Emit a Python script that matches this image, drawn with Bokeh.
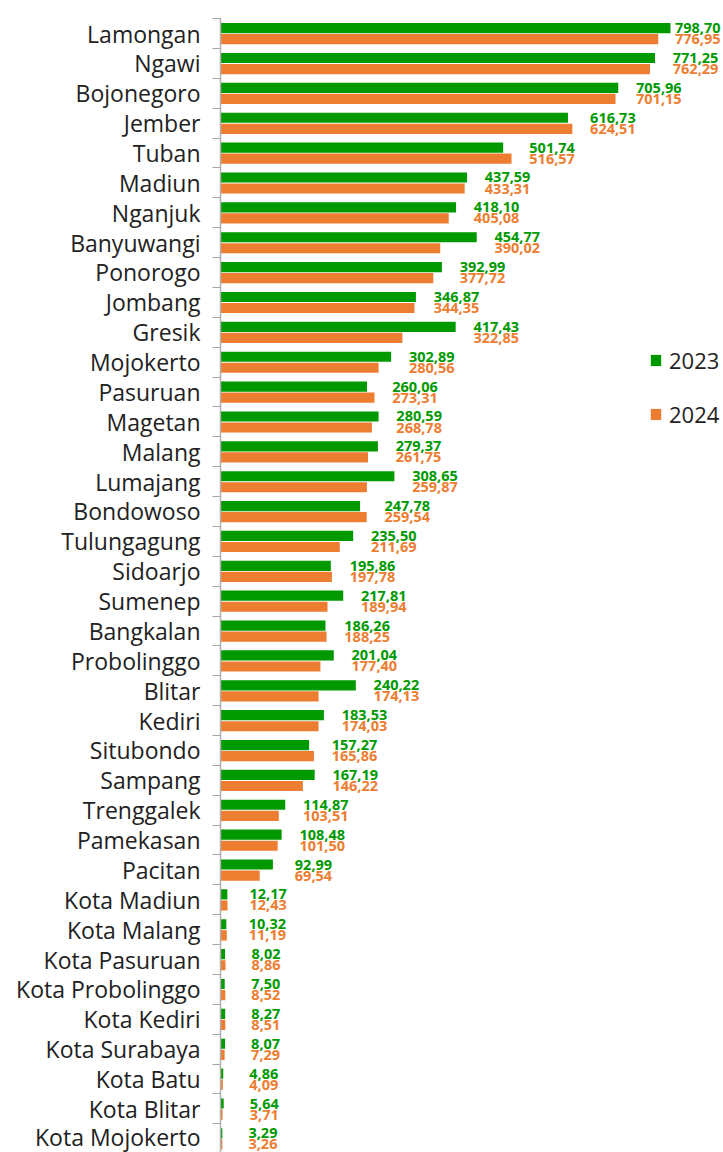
import numpy as np
from bokeh.plotting import figure
from bokeh.models import Range1d, FixedTicker, ColumnDataSource
from bokeh.embed import file_html
from bokeh.resources import INLINE
from bokeh.core.properties import value

regions = ["Lamongan", "Ngawi", "Bojonegoro", "Jember", "Tuban", "Madiun", "Nganjuk",
           "Banyuwangi", "Ponorogo", "Jombang", "Gresik", "Mojokerto", "Pasuruan",
           "Magetan", "Malang", "Lumajang", "Bondowoso", "Tulungagung", "Sidoarjo",
           "Sumenep", "Bangkalan", "Probolinggo", "Blitar", "Kediri", "Situbondo",
           "Sampang", "Trenggalek", "Pamekasan", "Pacitan", "Kota Madiun", "Kota Malang",
           "Kota Pasuruan", "Kota Probolinggo", "Kota Kediri", "Kota Surabaya",
           "Kota Batu", "Kota Blitar", "Kota Mojokerto"]

v2023 = [798.70, 771.25, 705.96, 616.73, 501.74, 437.59, 418.10, 454.77, 392.99, 346.87,
         417.43, 302.89, 260.06, 280.59, 279.37, 308.65, 247.78, 235.50, 195.86, 217.81,
         186.26, 201.04, 240.22, 183.53, 157.27, 167.19, 114.87, 108.48, 92.99, 12.17,
         10.32, 8.02, 7.50, 8.27, 8.07, 4.86, 5.64, 3.29]

v2024 = [776.95, 762.29, 701.15, 624.51, 516.57, 433.31, 405.08, 390.02, 377.72, 344.35,
         322.85, 280.56, 273.31, 268.78, 261.75, 259.87, 259.54, 211.69, 197.78, 189.94,
         188.25, 177.40, 174.13, 174.03, 165.86, 146.22, 103.51, 101.50, 69.54, 12.43,
         11.19, 8.86, 8.52, 8.51, 7.29, 4.09, 3.71, 3.26]

series_names = ["2023", "2024"]

GREEN = "#009900"
ORANGE = "#ED7D31"
FONT = "Open Sans"

n = len(regions)
pos = np.arange(n, dtype=float)
a = np.array(v2023)
b = np.array(v2024)


def fmt(v):
    return f"{v:.2f}".replace(".", ",")


label_x = np.minimum(np.maximum(a, b) + 72, 847)

src = ColumnDataSource(dict(
    y1=pos - 0.18, y2=pos + 0.19, a=a, b=b, lx=label_x,
    la=[fmt(v) for v in a], lb=[fmt(v) for v in b],
))

p = figure(width=723, height=1152, output_backend="svg", toolbar_location=None,
           x_range=Range1d(0, 892.8), y_range=Range1d(37.46, -1.105),
           min_border_left=220, min_border_right=0, min_border_top=0, min_border_bottom=0)

p.hbar(y="y1", left=0, right="a", height=0.34, source=src, fill_color=GREEN,
       line_color=None, legend_label=series_names[0])
p.hbar(y="y2", left=0, right="b", height=0.34, source=src, fill_color=ORANGE,
       line_color=None, legend_label=series_names[1])

p.text(x="lx", y="y1", text="la", source=src, text_align="center", text_baseline="middle",
       text_font=value(FONT), text_font_style="bold", text_font_size="14.5px", text_color=GREEN)
p.text(x="lx", y="y2", text="lb", source=src, text_align="center", text_baseline="middle",
       text_font=value(FONT), text_font_style="bold", text_font_size="14.5px", text_color=ORANGE)

p.xaxis.visible = False
p.xgrid.visible = False
p.ygrid.visible = False
p.outline_line_color = None

ax = p.yaxis[0]
ax.ticker = FixedTicker(ticks=list(pos), minor_ticks=list(np.arange(-0.5, n, 1.0)))
ax.major_label_overrides = {int(i): name for i, name in enumerate(regions)}
ax.major_tick_out = 0
ax.major_tick_in = 0
ax.minor_tick_out = 8
ax.minor_tick_in = 0
ax.minor_tick_line_color = "#a6a6a6"
ax.axis_line_color = "#b0b0b0"
ax.axis_line_width = 1.5
ax.bounds = (-0.5, n - 0.5)
ax.major_label_standoff = 12
ax.major_label_text_font = FONT
ax.major_label_text_font_size = "23px"
ax.major_label_text_color = "#222222"

lg = p.legend[0]
lg.location = (429, 723)
lg.glyph_width = 13
lg.glyph_height = 14
lg.label_height = 14
lg.spacing = 24
lg.padding = 0
lg.margin = 0
lg.border_line_color = None
lg.background_fill_alpha = 0
lg.label_text_font = FONT
lg.label_text_font_size = "22px"
lg.label_text_color = "#222222"
lg.label_standoff = 7

open("out.html", "w").write(file_html(p, INLINE))
